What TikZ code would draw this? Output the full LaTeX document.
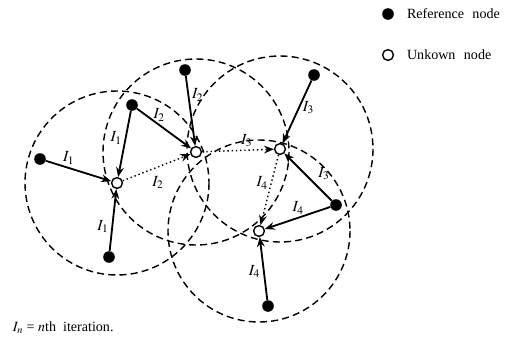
\documentclass[tikz,border=0pt]{standalone}
\usepackage{mathptmx}
\usepackage{fontspec}
\setmainfont{Liberation Serif}
\usetikzlibrary{arrows.meta, positioning}

\begin{document}
\begin{tikzpicture}[x=0.025cm, y=-0.025cm, font=\fontsize{10}{12}\selectfont,
        refnode/.style={circle, fill=black, inner sep=0pt, minimum size=0.29cm},
        unknode/.style={circle, draw=black, fill=white, line width=1pt, inner sep=0pt, minimum size=0.27cm},
        zone/.style={dashed, dash pattern=on 5pt off 3pt, line width=1pt},
        rangeline/.style={line width=1.3pt, -{Stealth[length=7pt, width=5.5pt]}},
        hop/.style={dotted, line width=1pt, -{Stealth[length=7pt, width=5.5pt]}},
        lab/.style={inner sep=2pt, font=\fontsize{11}{13}\selectfont}]
        \useasboundingbox (0,0) rectangle (519,336);

        \node[unknode] (U1) at (117,183) {};
        \node[unknode] (U2) at (196,152) {};
        \node[unknode] (U3) at (280,149) {};
        \node[unknode] (U4) at (259,231) {};

        \node[refnode] (A) at (40,159) {};
        \node[refnode] (B) at (132,105) {};
        \node[refnode] (C) at (109,257) {};
        \node[refnode] (D) at (185,70) {};
        \node[refnode] (E) at (314,75) {};
        \node[refnode] (F) at (336,205) {};
        \node[refnode] (G) at (268,306) {};

        \draw[zone] (U1) circle[radius=92];
        \draw[zone] (U2) circle[radius=93];
        \draw[zone] (U3) circle[radius=93];
        \draw[zone] (U4) circle[radius=91];

        \draw[rangeline] (A) -- node[lab, pos=0.35, above] {$I_1$} (U1);
        \draw[rangeline] (B) -- node[lab, pos=0.41, left] {$I_1$} (U1);
        \draw[rangeline] (C) -- node[lab, pos=0.4, left] {$I_1$} (U1);
        \draw[rangeline] (B) -- node[lab, pos=0.41, above] {$I_2$} (U2);
        \draw[rangeline] (D) -- node[lab, pos=0.27, right] {$I_2$} (U2);
        \draw[rangeline] (E) -- node[lab, pos=0.43, right] {$I_3$} (U3);
        \draw[rangeline] (F) -- node[lab, pos=0.36, above right] {$I_3$} (U3);
        \draw[rangeline] (F) -- node[lab, pos=0.49, above] {$I_4$} (U4);
        \draw[rangeline] (G) -- node[lab, pos=0.45, left] {$I_4$} (U4);

        \draw[hop] (U1) -- node[lab, pos=0.52, below=4pt] {$I_2$} (U2);
        \draw[hop] (U2) -- node[lab, pos=0.62, above] {$I_3$} (U3);
        \draw[hop] (U3) -- node[lab, pos=0.4, left] {$I_4$} (U4);

        \node[refnode] (keyref) at (388,14) {};
        \node[unknode] (keyunk) at (388,55) {};
        \node[right=0.2cm of keyref] (keyreftext) {Reference\hspace{6pt}node};
        \node[right=0.2cm of keyunk] (keyunktext) {Unkown\hspace{6pt}node};

        \node[anchor=west] (note) at (8,328) {$I_n$ = $n$th\hspace{5pt}iteration.};
\end{tikzpicture}
\end{document}
